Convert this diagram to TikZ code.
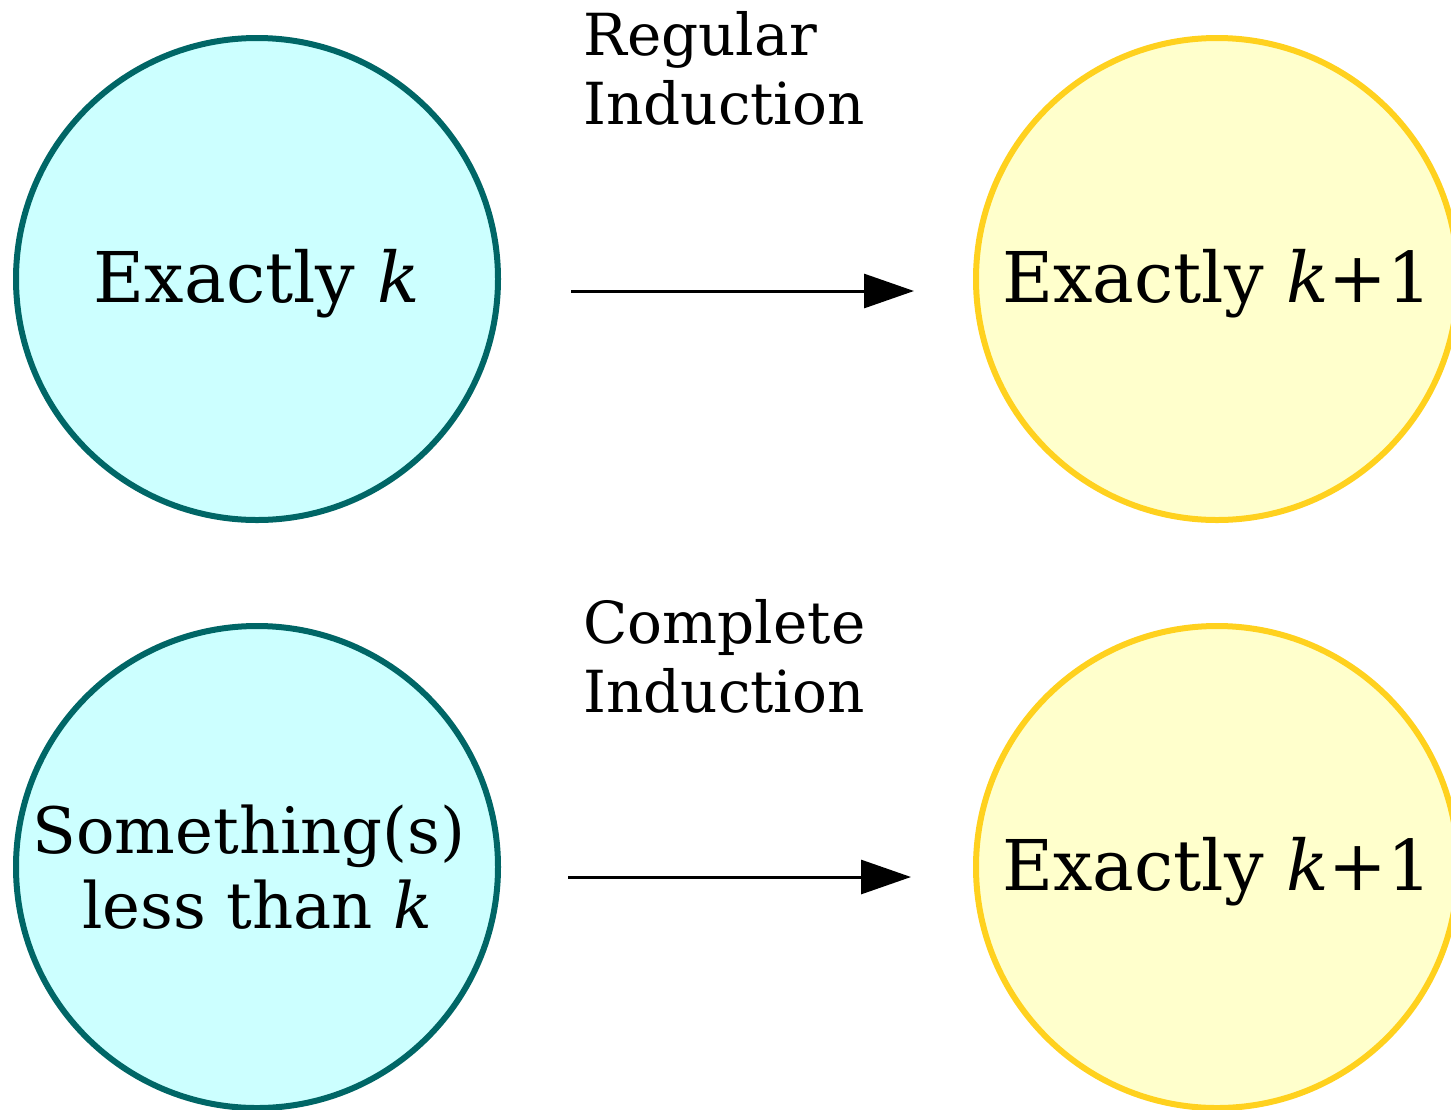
\documentclass[tikz,border=0pt]{standalone}
\usepackage{fontspec}
\setmainfont{DejaVu Serif}
\usepackage{tikz}
\usetikzlibrary{arrows.meta, positioning}
\definecolor{Teal_Line}{HTML}{006666}
\definecolor{Teal_Fill}{HTML}{CCFFFF}
\definecolor{Gold_Line}{HTML}{FFD11E}
\definecolor{Gold_Fill}{HTML}{FFFFCC}

\begin{document}
\begin{tikzpicture}[
    x=0.5pt, y=-0.5pt,
    every node/.style={inner sep=0pt},
    case/.style={
        circle,
        line width=3pt,
        minimum size=241pt,
        text=black,
        align=center,
        font=\fontsize{35}{37.5}\selectfont
    },
    oneline/.style={text depth=3pt},
    given/.style={case, fill=Teal_Fill, draw=Teal_Line},
    goal/.style={case, oneline, fill=Gold_Fill, draw=Gold_Line},
    step label/.style={anchor=north west, align=left, font=\fontsize{29}{34.5}\selectfont},
    implies/.style={line width=1.5pt, -{Triangle[length=25pt, width=17pt]}}
]
\useasboundingbox (0,0) rectangle (1451,1109);

% regular induction
\node[given, oneline] (K) at (257, 279) {Exactly \textit{k}};
\node[goal] (K1) at (1217, 279) {Exactly \textit{k}+1};
\coordinate (RegFrom) at (571, 291);
\coordinate (RegTo) at (914, 291);
\node[step label] (Reg) at (583, 11) {Regular\\Induction};
\draw[implies] (RegFrom) -- (RegTo);

% complete induction
\node[given, font=\fontsize{32}{37.5}\selectfont] (Less) at (257, 867) {Something(s)\kern0.25em\\less than \textit{k}};
\node[goal] (K1b) at (1217, 867) {Exactly \textit{k}+1};
\coordinate (ComFrom) at (568, 877);
\coordinate (ComTo) at (911, 877);
\node[step label] (Com) at (583, 599) {Complete\\Induction};
\draw[implies] (ComFrom) -- (ComTo);
\end{tikzpicture}
\end{document}
